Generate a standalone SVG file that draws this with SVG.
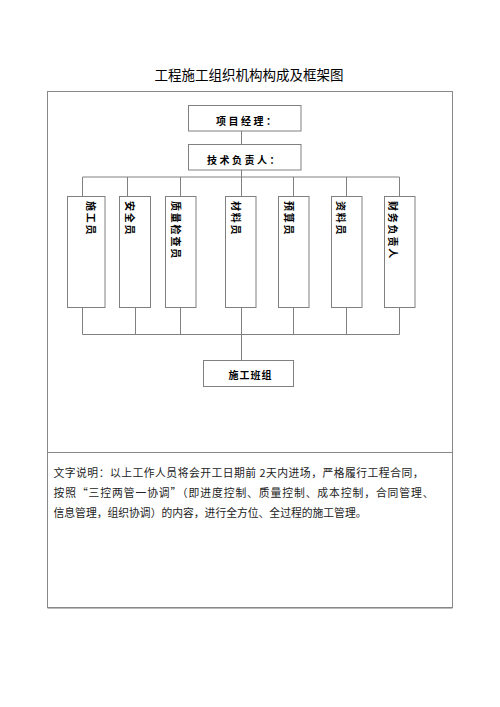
<svg xmlns="http://www.w3.org/2000/svg" width="500" height="707" viewBox="0 0 500 707">
<style>
.box{fill:#fff;stroke:#808080;stroke-width:1}
.ln{fill:none;stroke:#808080;stroke-width:1}
.t{font-family:"Noto Sans CJK SC","Noto Sans",sans-serif;fill:#000}
.lbl{font-size:10px;font-weight:700;letter-spacing:2.5px}
.vl{font-size:10px;font-weight:600;letter-spacing:1.8px;dominant-baseline:central}
.body{font-size:10.8px;fill:#222}
</style>
<rect width="500" height="707" fill="#fff"/>
<text class="t" x="249" y="80" font-size="13.5" text-anchor="middle" fill="#333">工程施工组织机构构成及框架图</text>
<g id="frame">
<rect x="47.5" y="91.5" width="405" height="516" fill="none" stroke="#888" stroke-width="1"/>
<line x1="47.5" y1="608.5" x2="452.5" y2="608.5" stroke="#bbb" stroke-width="1"/>
<line x1="47.5" y1="452.5" x2="452.5" y2="452.5" stroke="#888" stroke-width="1"/>
</g>
<g id="connectors">
<path class="ln" d="M241.5 131V144.5M241.5 170V177M82.5 177H399.5M82.5 177V196M127.5 177V196M180.5 177V196M241.5 177V196M293.5 177V196M346.5 177V196M399.5 177V196"/>
<path class="ln" d="M82.5 308V334.5M135.5 308V334.5M180.5 308V334.5M241.5 308V360.5M293.5 308V334.5M346.5 308V334.5M399.5 308V334.5M82.5 334.5H399.5"/>
</g>
<g id="pm"><rect class="box" x="188.5" y="105.5" width="112.5" height="25.5"/><text class="t lbl" x="216" y="125">项目经理：</text></g>
<g id="tech"><rect class="box" x="188.5" y="144.5" width="112.5" height="25.5"/><text class="t lbl" x="207" y="164">技术负责人：</text></g>
<g id="n1"><rect class="box" x="67.5" y="196.5" width="37.5" height="111"/><text class="t vl" transform="translate(91.7 201) rotate(90)">施工员</text></g>
<g id="n2"><rect class="box" x="119.5" y="196.5" width="31" height="111"/><text class="t vl" transform="translate(130 201) rotate(90)">安全员</text></g>
<g id="n3"><rect class="box" x="165.5" y="196.5" width="30.5" height="111"/><text class="t vl" transform="translate(176 201) rotate(90)">质量检查员</text></g>
<g id="n4"><rect class="box" x="225.5" y="196.5" width="30.5" height="111"/><text class="t vl" transform="translate(236.7 201) rotate(90)">材料员</text></g>
<g id="n5"><rect class="box" x="278.5" y="196.5" width="30.5" height="111"/><text class="t vl" transform="translate(289.3 201) rotate(90)">预算员</text></g>
<g id="n6"><rect class="box" x="331.5" y="196.5" width="30.5" height="111"/><text class="t vl" transform="translate(341.7 201) rotate(90)">资料员</text></g>
<g id="n7"><rect class="box" x="384.5" y="196.5" width="30.5" height="111"/><text class="t vl" transform="translate(393.3 201) rotate(90)">财务负责人</text></g>
<g id="team"><rect class="box" x="203.5" y="360.5" width="90" height="26"/><text class="t lbl" x="228.5" y="374" dominant-baseline="central" style="letter-spacing:1px">施工班组</text></g>
<g id="note">
<text class="t body" x="53.5" y="477" textLength="370" lengthAdjust="spacing">文字说明：以上工作人员将会开工日期前 2天内进场，严格履行工程合同，</text>
<text class="t body" x="53.5" y="497" textLength="380" lengthAdjust="spacing">按照“三控两管一协调”（即进度控制、质量控制、成本控制，合同管理、</text>
<text class="t body" x="53.5" y="516.5" textLength="313" lengthAdjust="spacing">信息管理，组织协调）的内容，进行全方位、全过程的施工管理。</text>
</g>
</svg>
